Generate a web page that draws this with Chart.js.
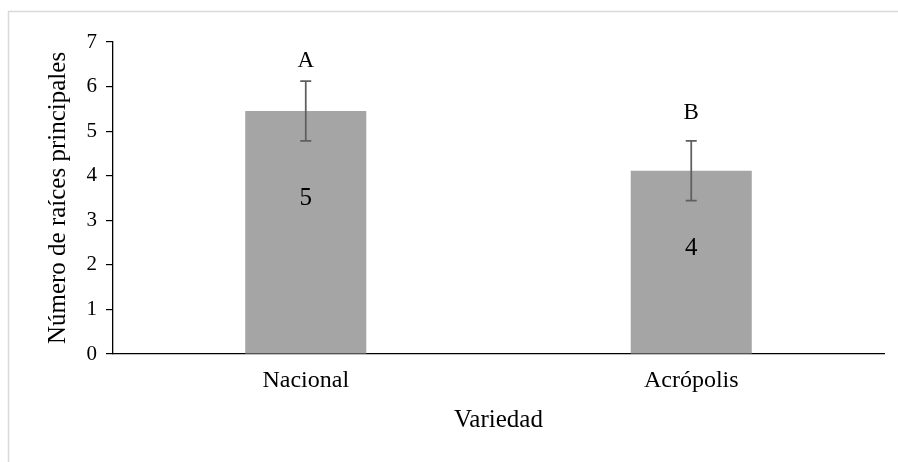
<!DOCTYPE html>
<html>
<head>
<meta charset="utf-8">
<script src="https://cdn.jsdelivr.net/npm/chart.js@4.4.1/dist/chart.umd.min.js"></script>
<style>
  html, body { margin: 0; padding: 0; background: #ffffff; }
  #wrap { width: 898px; height: 462px; }
</style>
</head>
<body>
<div id="wrap"><canvas id="c" width="898" height="462"></canvas></div>
<script>
// Number of main roots per variety (mean ± error) with group letters
const categories = ['Nacional', 'Acrópolis'];
const means = [5.45, 4.11];
const errors = [0.67, 0.67];
const letters = ['A', 'B'];
const yTickValues = [0, 1, 2, 3, 4, 5, 6, 7];

const SERIF = '"Liberation Serif", "Times New Roman", serif';

// Light grey frame around the chart
const framePlugin = {
  id: 'frame',
  beforeDraw(chart) {
    const ctx = chart.ctx;
    ctx.save();
    ctx.fillStyle = '#ffffff';
    ctx.fillRect(0, 0, chart.width, chart.height);
    ctx.strokeStyle = '#d9d9d9';
    ctx.lineWidth = 1.5;
    ctx.beginPath();
    ctx.moveTo(8.5, chart.height + 2);
    ctx.lineTo(8.5, 11.5);
    ctx.lineTo(chart.width + 2, 11.5);
    ctx.stroke();
    ctx.restore();
  }
};

// Error bars, significance letters and rounded value labels
const annotatePlugin = {
  id: 'annotate',
  afterDatasetsDraw(chart, args, opts) {
    const ctx = chart.ctx;
    const y = chart.scales.y;
    const meta = chart.getDatasetMeta(0);
    ctx.save();
    meta.data.forEach((bar, i) => {
      const x = bar.x;
      const top = y.getPixelForValue(means[i] + errors[i]);
      const bot = y.getPixelForValue(means[i] - errors[i]);
      // error bar
      ctx.strokeStyle = '#5f5f5f';
      ctx.lineWidth = 1.75;
      ctx.beginPath();
      ctx.moveTo(x, top); ctx.lineTo(x, bot);
      ctx.moveTo(x - 5.5, top); ctx.lineTo(x + 5.5, top);
      ctx.moveTo(x - 5.5, bot); ctx.lineTo(x + 5.5, bot);
      ctx.stroke();
      // letter above the error bar
      ctx.fillStyle = '#000000';
      ctx.font = '23px ' + SERIF;
      ctx.textAlign = 'center';
      ctx.textBaseline = 'alphabetic';
      ctx.fillText(letters[i], x, top - opts.letterGap[i]);
      // rounded value inside the bar
      const base = y.getPixelForValue(0);
      const ly = base - (base - bar.y) * opts.labelFrac[i];
      ctx.font = '25px ' + SERIF;
      ctx.textBaseline = 'middle';
      ctx.fillText(Math.round(means[i]).toString(), x, ly);
    });
    ctx.restore();
  }
};

new Chart(document.getElementById('c'), {
  type: 'bar',
  data: {
    labels: categories,
    datasets: [{
      data: means,
      backgroundColor: '#a5a5a5',
      borderWidth: 0,
      categoryPercentage: 1.0,
      barPercentage: 0.314
    }]
  },
  options: {
    responsive: false,
    animation: false,
    devicePixelRatio: 1,
    layout: { padding: { left: 30, top: 42, right: 14, bottom: 20 } },
    plugins: {
      legend: { display: false },
      tooltip: { enabled: false },
      annotate: { letterGap: [14, 22], labelFrac: [0.642, 0.578] }
    },
    scales: {
      x: {
        grid: { display: false, drawTicks: false },
        border: { display: true, color: '#000000', width: 1.3 },
        ticks: {
          color: '#000000',
          font: { family: SERIF, size: 24 },
          padding: 12,
          maxRotation: 0
        },
        title: {
          display: true,
          text: 'Variedad',
          color: '#000000',
          font: { family: SERIF, size: 25 },
          padding: { top: 0, bottom: 7 }
        },
        afterFit(scale) { scale.height = 88; }
      },
      y: {
        min: 0,
        max: 7,
        afterBuildTicks(scale) { scale.ticks = yTickValues.map(v => ({ value: v })); },
        grid: {
          display: true,
          drawOnChartArea: false,
          drawTicks: true,
          tickLength: 7,
          color: '#000000',
          lineWidth: 1.2
        },
        border: { display: true, color: '#000000', width: 1.3 },
        ticks: {
          color: '#000000',
          font: { family: SERIF, size: 21 },
          padding: 9
        },
        title: {
          display: true,
          text: 'Número de raíces principales',
          color: '#000000',
          font: { family: SERIF, size: 25 },
          padding: { top: 13, bottom: 0 }
        },
        afterFit(scale) { scale.width = 83; }
      }
    }
  },
  plugins: [framePlugin, annotatePlugin]
});
</script>
</body>
</html>
